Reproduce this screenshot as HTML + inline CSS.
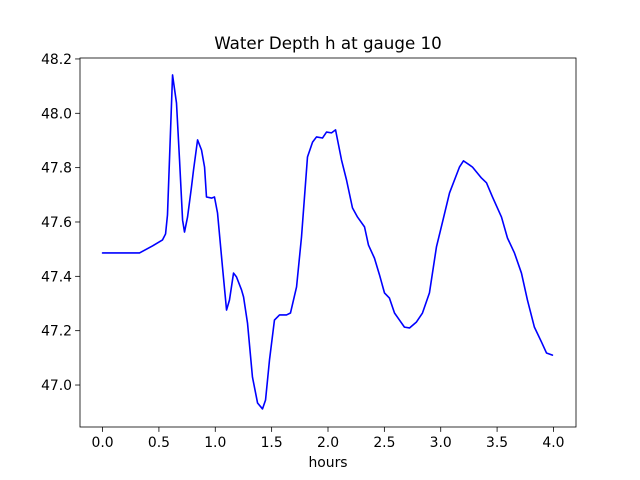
<!DOCTYPE html>
<html><head><meta charset="utf-8"><style>
html,body{margin:0;padding:0;background:#fff;}
svg{display:block;font-family:"DejaVu Sans","Liberation Sans",sans-serif;}
</style></head><body>
<svg id="chart" width="640" height="480" viewBox="0 0 640 480" xmlns="http://www.w3.org/2000/svg">
<rect x="0" y="0" width="640" height="480" fill="#fff"/>
<text x="328" y="49" text-anchor="middle" font-size="16.7" fill="#000">Water Depth h at gauge 10</text>
<g id="xticks"></g>
<g id="yticks"></g>
<polyline id="series" fill="none" stroke="#0000ff" stroke-width="1.6" stroke-linejoin="round" stroke-linecap="round"/>
<rect x="80" y="58" width="496" height="369" fill="none" stroke="#000" stroke-width="0.8"/>
<text x="328" y="467" text-anchor="middle" font-size="13.9" fill="#000">hours</text>
</svg>
<script>
const hours = [0,0.328,0.443,0.532,0.559,0.576,0.621,0.656,0.683,0.710,0.727,0.754,0.789,0.807,0.843,0.878,0.905,0.922,0.967,0.993,1.020,1.064,1.100,1.126,1.162,1.188,1.233,1.251,1.286,1.330,1.375,1.419,1.446,1.481,1.525,1.570,1.632,1.667,1.721,1.765,1.818,1.863,1.898,1.951,1.987,2.031,2.067,2.120,2.164,2.217,2.262,2.324,2.359,2.412,2.457,2.501,2.545,2.590,2.634,2.678,2.723,2.785,2.838,2.900,2.962,3.016,3.078,3.166,3.202,3.255,3.282,3.361,3.406,3.459,3.539,3.592,3.654,3.716,3.769,3.831,3.894,3.938,3.991];
const depth = [47.486,47.486,47.512,47.534,47.556,47.626,48.141,48.038,47.828,47.607,47.563,47.618,47.729,47.791,47.902,47.865,47.802,47.692,47.688,47.692,47.633,47.434,47.276,47.313,47.412,47.398,47.350,47.324,47.228,47.029,46.934,46.912,46.945,47.092,47.239,47.258,47.258,47.265,47.361,47.545,47.839,47.894,47.913,47.909,47.931,47.928,47.939,47.828,47.755,47.652,47.618,47.582,47.515,47.467,47.405,47.339,47.320,47.265,47.239,47.213,47.210,47.232,47.265,47.339,47.508,47.600,47.707,47.802,47.825,47.810,47.802,47.762,47.744,47.692,47.618,47.541,47.486,47.412,47.313,47.213,47.158,47.118,47.110];
const xTickVals = [0,0.5,1,1.5,2,2.5,3,3.5,4];
const xTickLabels = ["0.0","0.5","1.0","1.5","2.0","2.5","3.0","3.5","4.0"];
const yTickVals = [47.0,47.2,47.4,47.6,47.8,48.0,48.2];
const yTickLabels = ["47.0","47.2","47.4","47.6","47.8","48.0","48.2"];

const X0=80,X1=576,Y0=427,Y1=58;
const xMin=-0.2,xMax=4.2,yMin=46.8455,yMax=48.2035;
function sx(v){return X0+(v-xMin)/(xMax-xMin)*(X1-X0);}
function sy(v){return Y0-(v-yMin)/(yMax-yMin)*(Y0-Y1);}
const NS="http://www.w3.org/2000/svg";
const xg=document.getElementById('xticks'), yg=document.getElementById('yticks');
xTickVals.forEach((v,i)=>{
  const x=sx(v);
  const l=document.createElementNS(NS,'line');
  l.setAttribute('x1',x);l.setAttribute('x2',x);l.setAttribute('y1',Y0);l.setAttribute('y2',Y0+4.9);
  l.setAttribute('stroke','#000');l.setAttribute('stroke-width','0.8');
  
  
  xg.appendChild(l);
  const t=document.createElementNS(NS,'text');
  t.setAttribute('x',x);t.setAttribute('y',Y0+20);t.setAttribute('text-anchor','middle');t.setAttribute('font-size','13.9');
  t.textContent=xTickLabels[i];
  
  
  xg.appendChild(t);
});
yTickVals.forEach((v,i)=>{
  const y=sy(v);
  const l=document.createElementNS(NS,'line');
  l.setAttribute('x1',X0-4.9);l.setAttribute('x2',X0);l.setAttribute('y1',y);l.setAttribute('y2',y);
  l.setAttribute('stroke','#000');l.setAttribute('stroke-width','0.8');
  
  
  yg.appendChild(l);
  const t=document.createElementNS(NS,'text');
  t.setAttribute('x',X0-8);t.setAttribute('y',y+5);t.setAttribute('text-anchor','end');t.setAttribute('font-size','13.9');
  t.textContent=yTickLabels[i];
  
  
  yg.appendChild(t);
});
document.getElementById('series').setAttribute('points',hours.map((h,i)=>sx(h).toFixed(2)+','+sy(depth[i]).toFixed(2)).join(' '));
</script>
</body></html>
